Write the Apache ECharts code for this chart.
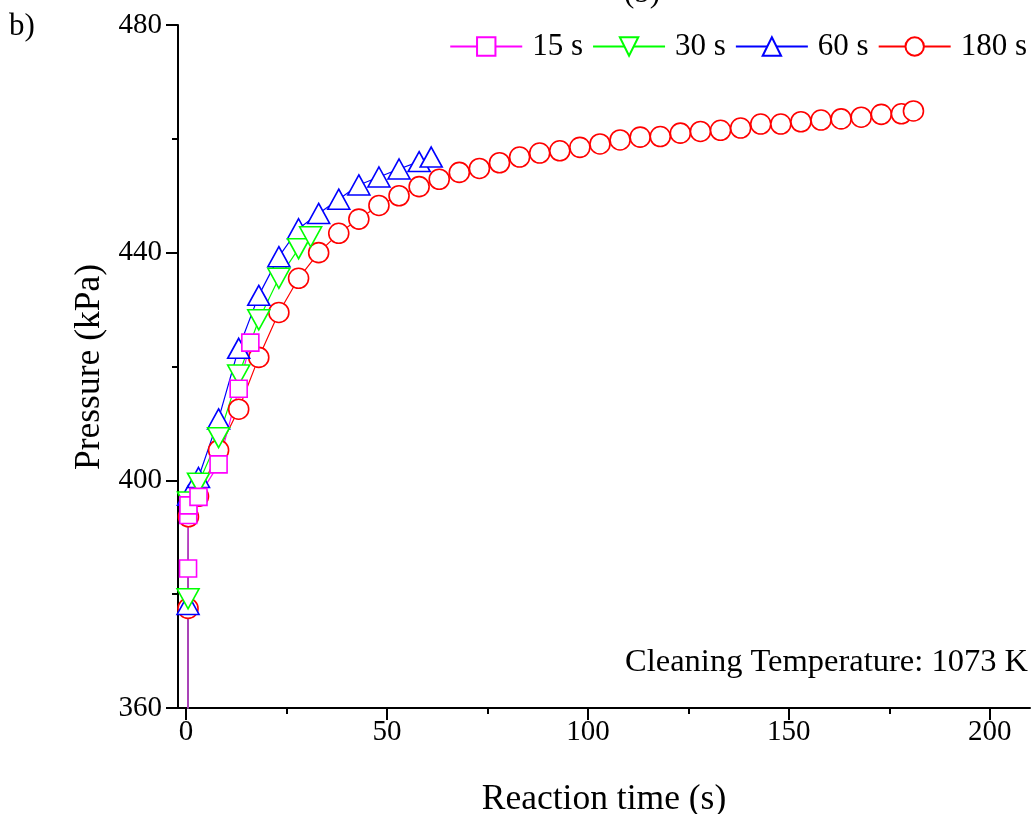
<!DOCTYPE html>
<html>
<head>
<meta charset="utf-8">
<script src="https://cdn.jsdelivr.net/npm/echarts@6/dist/echarts.min.js"></script>
<style>
  html, body { margin: 0; padding: 0; background: #ffffff; }
  #chart { width: 1034px; height: 814px; }
</style>
</head>
<body>
<div id="chart"></div>
<script>
// Pressure traces recorded during cleaning at 1073 K, one per cleaning duration.
const seriesNames = ['15 s', '30 s', '60 s', '180 s'];

const time15 = [0.3, 0.5, 0.55, 0.6, 3.1, 8.1, 13.1, 16];
const pres15 = [101, 384.5, 393.9, 395.6, 397.1, 402.8, 416.1, 424.2];

const time30 = [0.3, 0.5, 0.6, 3.1, 8.1, 13.1, 18.1, 23.1, 28, 31];
const pres30 = [101, 379.2, 396.2, 399.5, 407.5, 418.5, 428.2, 435.5, 440.7, 442.8];

const time60 = [0.3, 0.5, 0.6, 3.1, 8.1, 13.1, 18.1, 23.1, 28, 33, 38, 43, 48, 53, 58, 61];
const pres60 = [101, 378.2, 397.4, 400.5, 410.8, 423.2, 432.5, 439.3, 444.2, 446.9, 449.4, 451.9, 453.3, 454.7, 456.0, 456.8];

const time180 = [0.3, 0.5, 0.6, 3.1, 8.1, 13.1, 18.1, 23.1, 28, 33, 38, 43, 48, 53, 58, 63, 68, 73, 78, 83,
                 88, 93, 98, 103, 108, 113, 118, 123, 128, 133, 138, 143, 148, 153, 158, 163, 168, 173, 178, 181];
const pres180 = [101, 377.5, 393.6, 397.2, 405.3, 412.5, 421.6, 429.5, 435.5, 440.0, 443.4, 445.9, 448.3, 450.0, 451.6, 452.9, 454.1, 454.8, 455.8, 456.8,
                 457.5, 457.9, 458.5, 459.1, 459.8, 460.3, 460.4, 461.0, 461.3, 461.5, 461.9, 462.6, 462.6, 463.0, 463.3, 463.5, 463.8, 464.3, 464.4, 464.9];

const xMajorTicks = [0, 50, 100, 150, 200];
const xMinorTicks = [25, 75, 125, 175];

const FONT = '"Liberation Serif", "Times New Roman", serif';

function pairs(t, p) {
  return t.map((v, i) => [v, p[i]]);
}

function makeSeries(name, t, p, color, symbol, size, rotate) {
  return {
    name: name,
    type: 'line',
    data: pairs(t, p),
    clip: true,
    symbol: symbol,
    symbolSize: size,
    symbolRotate: rotate || 0,
    showAllSymbol: true,
    color: color,
    lineStyle: { color: color, width: 1.2 },
    itemStyle: { color: '#ffffff', borderColor: color, borderWidth: 1.6 },
    emphasis: { disabled: true },
    animation: false
  };
}

const chart = echarts.init(document.getElementById('chart'), null, { renderer: 'canvas' });

const axisLineStyle = { color: '#000', width: 2 };

chart.setOption({
  backgroundColor: '#ffffff',
  animation: false,
  grid: { left: 178, right: 4, top: 25, bottom: 106, containLabel: false },
  legend: {
    data: seriesNames,
    right: 2,
    top: 26,
    itemWidth: 72,
    itemHeight: 23,
    itemGap: 9,
    textStyle: { fontFamily: FONT, fontSize: 31, color: '#000', padding: [0, 0, 0, 5] },
    selectedMode: false
  },
  xAxis: [
    {
      type: 'value',
      min: -2,
      max: 210,
      axisLine: { show: true, onZero: false, lineStyle: axisLineStyle },
      axisTick: { show: true, inside: false, length: 12, lineStyle: { color: '#000', width: 2 }, customValues: xMajorTicks },
      axisLabel: { show: true, margin: 10, fontFamily: FONT, fontSize: 29, color: '#000', customValues: xMajorTicks },
      splitLine: { show: false }
    },
    {
      type: 'value',
      min: -2,
      max: 210,
      position: 'bottom',
      axisLine: { show: false, onZero: false },
      axisTick: { show: true, inside: false, length: 6, lineStyle: { color: '#000', width: 2 }, customValues: xMinorTicks },
      axisLabel: { show: false },
      splitLine: { show: false }
    }
  ],
  yAxis: {
    type: 'value',
    min: 360,
    max: 480,
    interval: 40,
    axisLine: { show: true, onZero: false, lineStyle: axisLineStyle },
    axisTick: { show: true, inside: false, length: 12, lineStyle: { color: '#000', width: 2 } },
    minorTick: { show: true, splitNumber: 2, length: 6, lineStyle: { color: '#000', width: 2 } },
    axisLabel: { margin: 16, fontFamily: FONT, fontSize: 29, color: '#000' },
    splitLine: { show: false },
    minorSplitLine: { show: false }
  },
  graphic: [
    {
      type: 'text', left: 9, top: 11,
      style: { text: 'b)', font: '31px ' + FONT, fill: '#000' }
    },
    {
      type: 'text', x: 642, y: -22,
      style: { text: '(b)', font: '31px ' + FONT, fill: '#000', textAlign: 'center' }
    },
    {
      type: 'text', x: 1028, y: 662,
      style: { text: 'Cleaning Temperature: 1073 K', font: '32.5px ' + FONT, fill: '#000', textAlign: 'right', textVerticalAlign: 'middle' }
    },
    {
      type: 'text', x: 604, y: 800,
      style: { text: 'Reaction time (s)', font: '35.5px ' + FONT, fill: '#000', textAlign: 'center', textVerticalAlign: 'middle' }
    },
    {
      type: 'text', x: 90, y: 367, rotation: Math.PI / 2,
      style: { text: 'Pressure (kPa)', font: '35.5px ' + FONT, fill: '#000', textAlign: 'center', textVerticalAlign: 'middle' }
    }
  ],
  series: [
    makeSeries('180 s', time180, pres180, '#ff0000', 'circle', 20),
    makeSeries('60 s', time60, pres60, '#0000ff', 'triangle', [22, 20]),
    makeSeries('30 s', time30, pres30, '#00ff00', 'triangle', [22, 20], 180),
    makeSeries('15 s', time15, pres15, '#ff00ff', 'rect', 17)
  ]
});
</script>
</body>
</html>
